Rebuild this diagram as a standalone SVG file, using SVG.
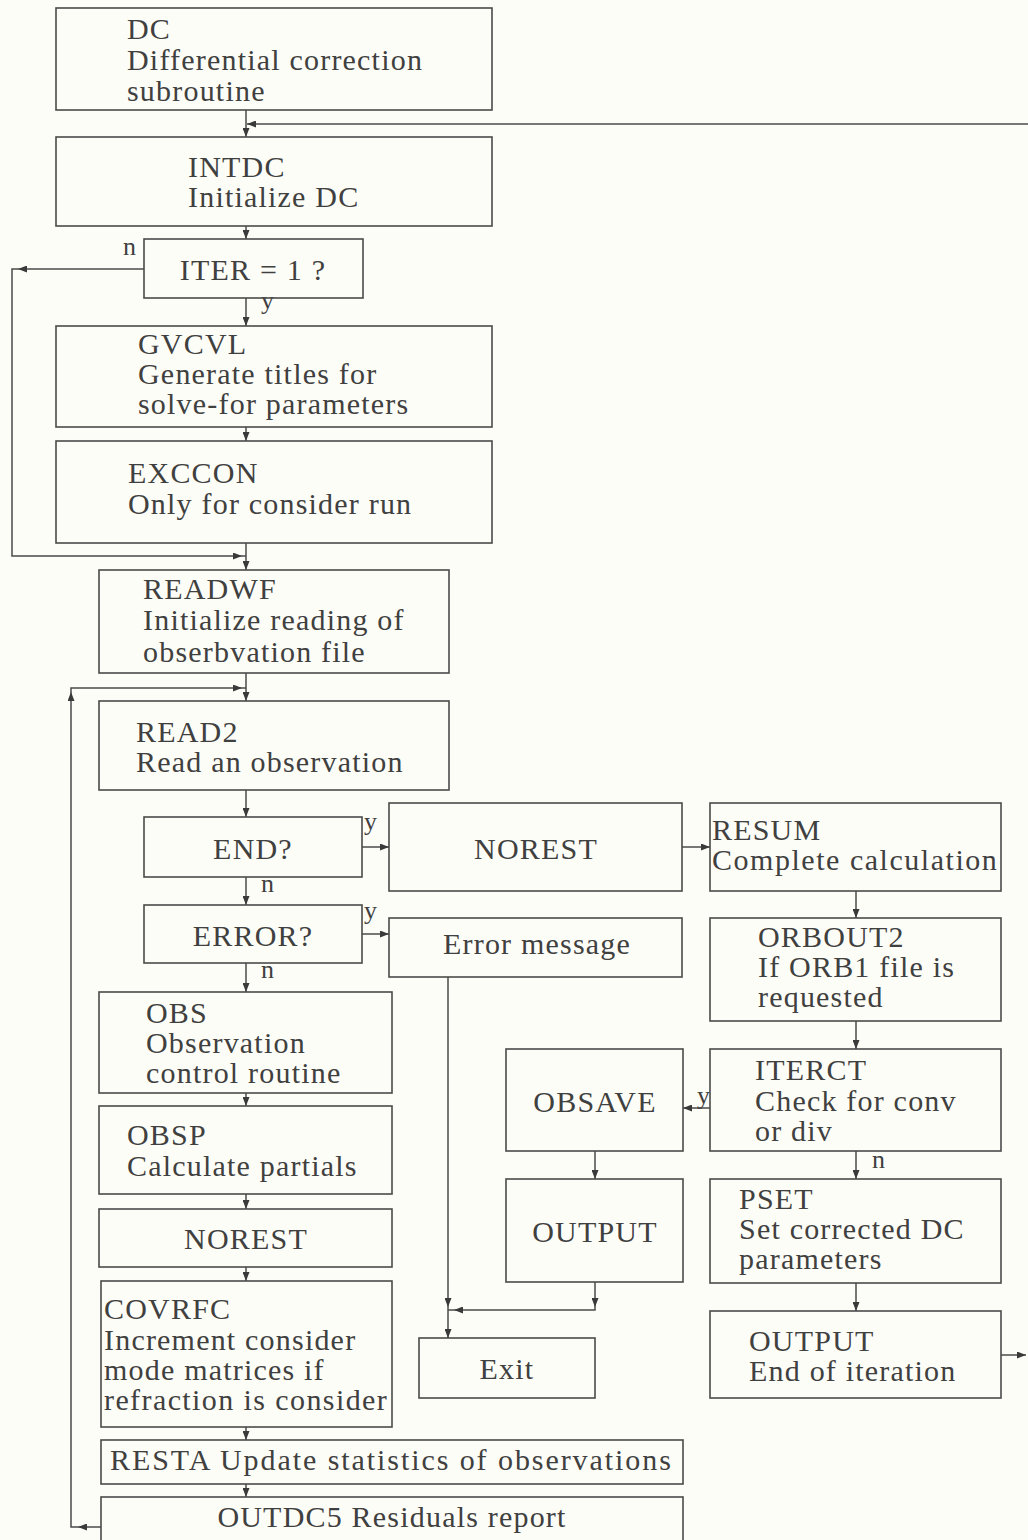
<svg xmlns="http://www.w3.org/2000/svg" width="1028" height="1540" viewBox="0 0 1028 1540">
<style>
.bg{fill:#fdfdf7}
.box{fill:none;stroke:#4a4a4a;stroke-width:1.6}
.t{font-family:"Liberation Serif","Times New Roman",serif;font-size:30px;fill:#404040;letter-spacing:1.2px}
.m{text-anchor:middle}
.lb{font-family:"Liberation Serif","Times New Roman",serif;font-size:26px;fill:#404040}
.c{fill:none;stroke:#4a4a4a;stroke-width:1.5}
</style>
<defs>
<marker id="ah" markerUnits="userSpaceOnUse" markerWidth="9" markerHeight="7" refX="9" refY="3.5" orient="auto">
<path d="M0,0 L9,3.5 L0,7 z" fill="#3a3a3a"/>
</marker>
</defs>
<rect class="bg" x="0" y="0" width="1028" height="1540"/>

<g id="connectors">
<path class="c" d="M246,110 V137" marker-end="url(#ah)"/>
<path class="c" d="M1028,124 H247" marker-end="url(#ah)"/>
<path class="c" d="M246,226 V239" marker-end="url(#ah)"/>
<path class="c" d="M144,269 H18" marker-end="url(#ah)"/>
<path class="c" d="M18,269 H12 V556 H242" marker-end="url(#ah)"/>
<path class="c" d="M242,556 H246"/>
<path class="c" d="M246,298 V326" marker-end="url(#ah)"/>
<path class="c" d="M246,427 V441" marker-end="url(#ah)"/>
<path class="c" d="M246,543 V570" marker-end="url(#ah)"/>
<path class="c" d="M246,673 V701" marker-end="url(#ah)"/>
<path class="c" d="M101,1527 H78" marker-end="url(#ah)"/>
<path class="c" d="M78,1527 H71 V692" marker-end="url(#ah)"/>
<path class="c" d="M71,692 V688 H242" marker-end="url(#ah)"/>
<path class="c" d="M242,688 H246"/>
<path class="c" d="M246,790 V817" marker-end="url(#ah)"/>
<path class="c" d="M362,847 H389" marker-end="url(#ah)"/>
<path class="c" d="M682,847 H710" marker-end="url(#ah)"/>
<path class="c" d="M246,877 V905" marker-end="url(#ah)"/>
<path class="c" d="M362,934 H389" marker-end="url(#ah)"/>
<path class="c" d="M856,891 V918" marker-end="url(#ah)"/>
<path class="c" d="M246,963 V992" marker-end="url(#ah)"/>
<path class="c" d="M448,977 V1307" marker-end="url(#ah)"/>
<path class="c" d="M448,1307 V1338" marker-end="url(#ah)"/>
<path class="c" d="M856,1021 V1049" marker-end="url(#ah)"/>
<path class="c" d="M710,1108 H683" marker-end="url(#ah)"/>
<path class="c" d="M246,1093 V1106" marker-end="url(#ah)"/>
<path class="c" d="M246,1194 V1209" marker-end="url(#ah)"/>
<path class="c" d="M246,1267 V1281" marker-end="url(#ah)"/>
<path class="c" d="M246,1427 V1440" marker-end="url(#ah)"/>
<path class="c" d="M246,1484 V1497" marker-end="url(#ah)"/>
<path class="c" d="M595,1151 V1179" marker-end="url(#ah)"/>
<path class="c" d="M856,1151 V1179" marker-end="url(#ah)"/>
<path class="c" d="M595,1282 V1307" marker-end="url(#ah)"/>
<path class="c" d="M595,1307 V1310 H454" marker-end="url(#ah)"/>
<path class="c" d="M454,1310 H448"/>
<path class="c" d="M856,1283 V1311" marker-end="url(#ah)"/>
<path class="c" d="M1001,1355 H1026" marker-end="url(#ah)"/>
<text class="lb" x="123" y="255">n</text>
<text class="lb" x="261" y="309">y</text>
<text class="lb" x="364" y="830">y</text>
<text class="lb" x="261" y="892">n</text>
<text class="lb" x="364" y="919">y</text>
<text class="lb" x="261" y="978">n</text>
<text class="lb" x="697" y="1104">y</text>
<text class="lb" x="872" y="1168">n</text>
</g>

<g id="dc"><rect class="box" x="56" y="8" width="436" height="102"/>
<text class="t" x="127" y="39">DC</text><text class="t" x="127" y="70">Differential correction</text><text class="t" x="127" y="101">subroutine</text></g>

<g id="intdc"><rect class="box" x="56" y="137" width="436" height="89"/>
<text class="t" x="188" y="177">INTDC</text><text class="t" x="188" y="207">Initialize DC</text></g>

<g id="iter"><rect class="box" x="144" y="239" width="219" height="59"/>
<text class="t m" x="253" y="280">ITER = 1 ?</text></g>

<g id="gvcvl"><rect class="box" x="56" y="326" width="436" height="101"/>
<text class="t" x="138" y="354">GVCVL</text><text class="t" x="138" y="384">Generate titles for</text><text class="t" x="138" y="414">solve-for parameters</text></g>

<g id="exccon"><rect class="box" x="56" y="441" width="436" height="102"/>
<text class="t" x="128" y="483">EXCCON</text><text class="t" x="128" y="514">Only for consider run</text></g>

<g id="readwf"><rect class="box" x="99" y="570" width="350" height="103"/>
<text class="t" x="143" y="599">READWF</text><text class="t" x="143" y="630">Initialize reading of</text><text class="t" x="143" y="662">obserbvation file</text></g>

<g id="read2"><rect class="box" x="99" y="701" width="350" height="89"/>
<text class="t" x="136" y="742">READ2</text><text class="t" x="136" y="772">Read an observation</text></g>

<g id="end"><rect class="box" x="144" y="817" width="218" height="60"/>
<text class="t m" x="253" y="859">END?</text></g>

<g id="norest1"><rect class="box" x="389" y="803" width="293" height="88"/>
<text class="t m" x="536" y="859">NOREST</text></g>

<g id="resum"><rect class="box" x="710" y="803" width="291" height="88"/>
<text class="t" x="712" y="840">RESUM</text><text class="t" x="712" y="870" textLength="286">Complete calculation</text></g>

<g id="error"><rect class="box" x="144" y="905" width="218" height="58"/>
<text class="t m" x="253" y="946">ERROR?</text></g>

<g id="errmsg"><rect class="box" x="389" y="918" width="293" height="59"/>
<text class="t m" x="537" y="954">Error message</text></g>

<g id="orbout2"><rect class="box" x="710" y="918" width="291" height="103"/>
<text class="t" x="758" y="947">ORBOUT2</text><text class="t" x="758" y="977">If ORB1 file is</text><text class="t" x="758" y="1007">requested</text></g>

<g id="obs"><rect class="box" x="99" y="992" width="293" height="101"/>
<text class="t" x="146" y="1023">OBS</text><text class="t" x="146" y="1053">Observation</text><text class="t" x="146" y="1083">control routine</text></g>

<g id="iterct"><rect class="box" x="710" y="1049" width="291" height="102"/>
<text class="t" x="755" y="1080">ITERCT</text><text class="t" x="755" y="1111">Check for conv</text><text class="t" x="755" y="1141">or div</text></g>

<g id="obsave"><rect class="box" x="506" y="1049" width="177" height="102"/>
<text class="t m" x="595" y="1112">OBSAVE</text></g>

<g id="obsp"><rect class="box" x="99" y="1106" width="293" height="88"/>
<text class="t" x="127" y="1145">OBSP</text><text class="t" x="127" y="1176">Calculate partials</text></g>

<g id="output1"><rect class="box" x="506" y="1179" width="177" height="103"/>
<text class="t m" x="595" y="1242">OUTPUT</text></g>

<g id="pset"><rect class="box" x="710" y="1179" width="291" height="104"/>
<text class="t" x="739" y="1209">PSET</text><text class="t" x="739" y="1239">Set corrected DC</text><text class="t" x="739" y="1269">parameters</text></g>

<g id="norest2"><rect class="box" x="99" y="1209" width="293" height="58"/>
<text class="t m" x="246" y="1249">NOREST</text></g>

<g id="covrfc"><rect class="box" x="101" y="1281" width="291" height="146"/>
<text class="t" x="104" y="1319">COVRFC</text><text class="t" x="104" y="1350">Increment consider</text><text class="t" x="104" y="1380">mode matrices if</text><text class="t" x="104" y="1410" textLength="284">refraction is consider</text></g>

<g id="exit"><rect class="box" x="419" y="1338" width="176" height="60"/>
<text class="t m" x="507" y="1379">Exit</text></g>

<g id="output2"><rect class="box" x="710" y="1311" width="291" height="87"/>
<text class="t" x="749" y="1351">OUTPUT</text><text class="t" x="749" y="1381">End of iteration</text></g>

<g id="resta"><rect class="box" x="101" y="1440" width="582" height="44"/>
<text class="t" x="110" y="1470" textLength="562">RESTA Update statistics of observations</text></g>

<g id="outdc5"><rect class="box" x="101" y="1497" width="582" height="60"/>
<text class="t m" x="392" y="1527">OUTDC5 Residuals report</text></g>
</svg>
